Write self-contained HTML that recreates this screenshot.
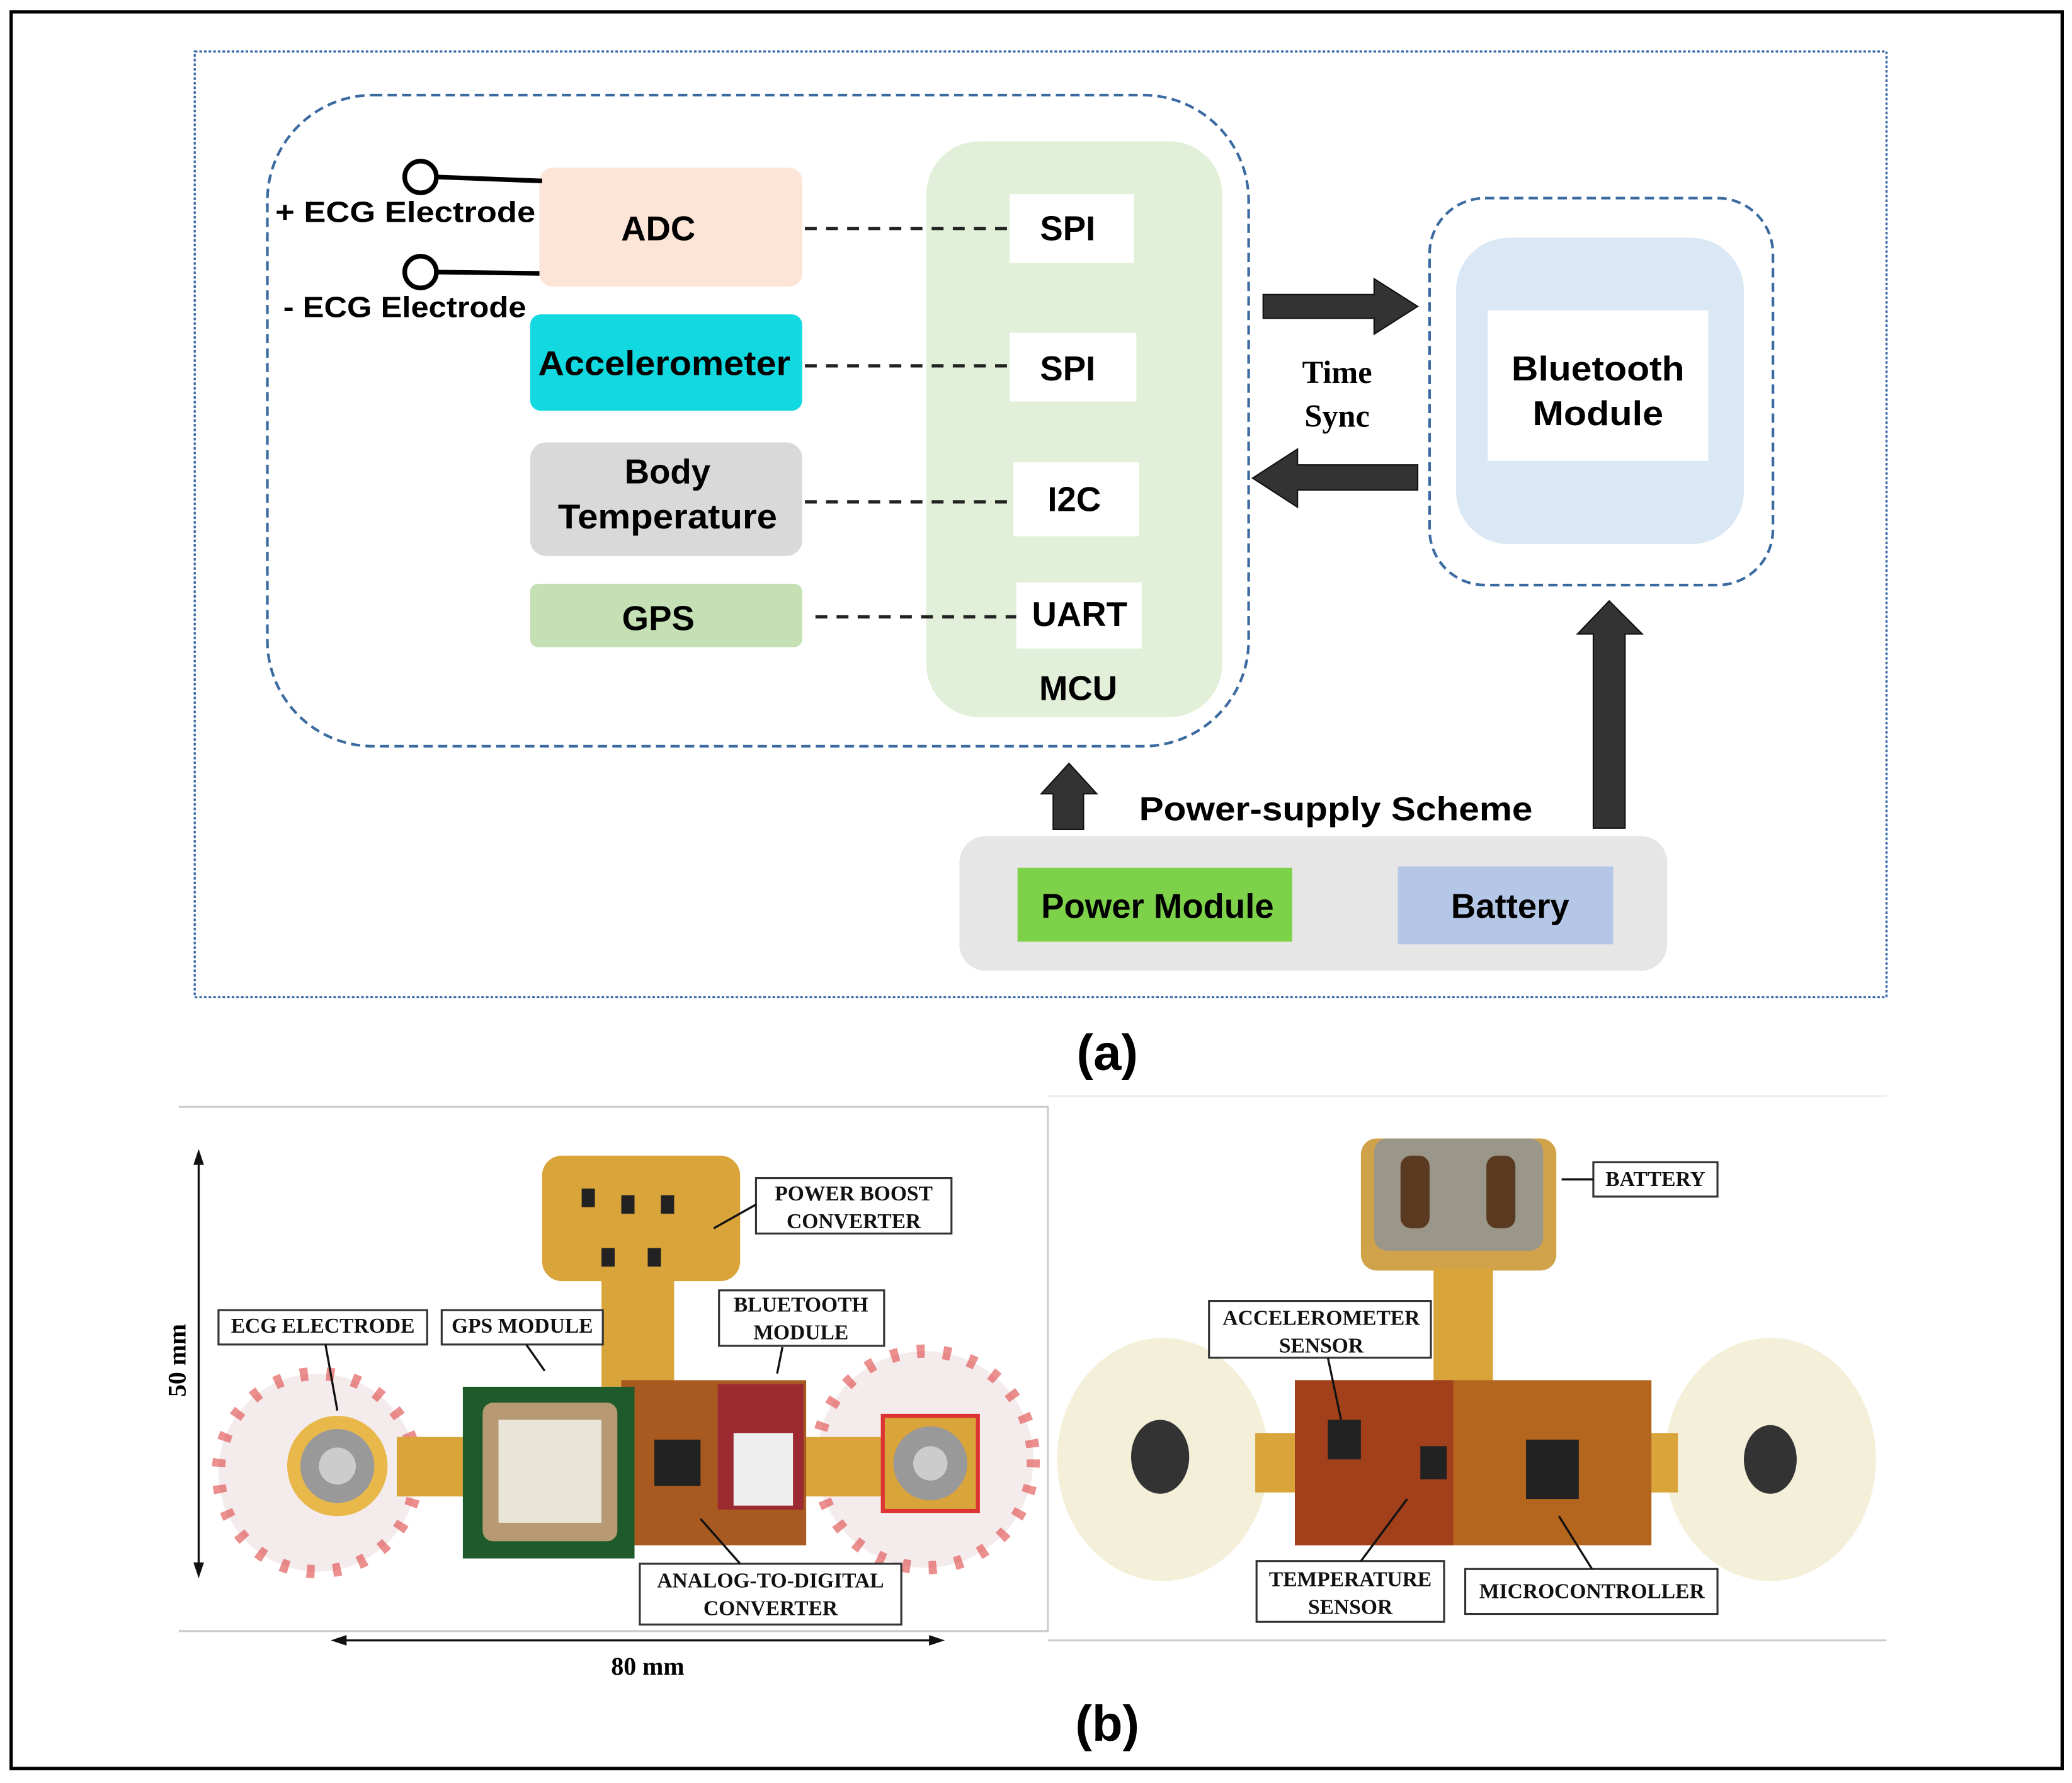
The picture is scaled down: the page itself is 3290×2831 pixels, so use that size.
<!DOCTYPE html>
<html><head><meta charset="utf-8"><style>
html,body{margin:0;padding:0;background:#fff}
svg{display:block}
.s{font-family:"Liberation Sans",Arial,sans-serif;font-weight:bold;fill:#000}
.r{font-family:"Liberation Serif",serif;font-weight:bold;fill:#000}
.l{font-family:"Liberation Serif",serif;font-weight:bold;font-size:16px;fill:#111}
</style></head><body>
<svg width="3290" height="2831" viewBox="0 0 1568 1350" xmlns="http://www.w3.org/2000/svg">
<rect x="0" y="0" width="1568" height="1350" fill="#fff"/>
<rect x="8" y="9" width="1553" height="1330" fill="none" stroke="#000" stroke-width="2.5"/>
<!-- part a -->
<rect x="147" y="39" width="1281" height="716" fill="none" stroke="#3a68a8" stroke-width="1.6" stroke-dasharray="2,1.5"/>
<rect x="202" y="72" width="743" height="493" rx="80" fill="none" stroke="#3a6aa0" stroke-width="2" stroke-dasharray="7,4"/>
<rect x="408" y="127" width="199" height="90" rx="10" fill="#fce4d6"/>
<rect x="401" y="238" width="206" height="73" rx="8" fill="#12d9e0"/>
<rect x="401" y="335" width="206" height="86" rx="12" fill="#d9d9d9"/>
<rect x="401" y="442" width="206" height="48" rx="6" fill="#c5e0b4"/>
<rect x="701" y="107" width="224" height="436" rx="40" fill="#e2f0d9"/>
<rect x="764" y="147" width="94" height="52" fill="#fff"/>
<rect x="764" y="252" width="96" height="52" fill="#fff"/>
<rect x="767" y="350" width="95" height="56" fill="#fff"/>
<rect x="769" y="441" width="95" height="50" fill="#fff"/>
<g stroke="#222" stroke-width="2.5" stroke-dasharray="9,7">
<line x1="609" y1="173" x2="762" y2="173"/>
<line x1="609" y1="277" x2="762" y2="277"/>
<line x1="609" y1="380" x2="764" y2="380"/>
<line x1="617" y1="467" x2="769" y2="467"/>
</g>
<g stroke="#000" stroke-width="3.5" fill="#fff">
<line x1="330" y1="134" x2="410" y2="137"/>
<line x1="330" y1="206" x2="408" y2="207"/>
<circle cx="318" cy="134" r="12"/>
<circle cx="318" cy="206" r="12"/>
</g>
<text class="s" x="208" y="168" font-size="22" textLength="197" lengthAdjust="spacingAndGlyphs">+  ECG Electrode</text>
<text class="s" x="214" y="240" font-size="22" textLength="184" lengthAdjust="spacingAndGlyphs">- ECG Electrode</text>
<text class="s" x="498" y="182" font-size="26" text-anchor="middle">ADC</text>
<text class="s" x="407" y="284" font-size="26" textLength="191" lengthAdjust="spacingAndGlyphs">Accelerometer</text>
<text class="s" x="505" y="366" font-size="26" text-anchor="middle">Body</text>
<text class="s" x="422" y="400" font-size="26" textLength="166" lengthAdjust="spacingAndGlyphs">Temperature</text>
<text class="s" x="498" y="477" font-size="26" text-anchor="middle">GPS</text>
<text class="s" x="808" y="182" font-size="26" text-anchor="middle">SPI</text>
<text class="s" x="808" y="288" font-size="26" text-anchor="middle">SPI</text>
<text class="s" x="813" y="387" font-size="26" text-anchor="middle">I2C</text>
<text class="s" x="817" y="474" font-size="26" text-anchor="middle">UART</text>
<text class="s" x="816" y="530" font-size="26" text-anchor="middle">MCU</text>
<rect x="1082" y="150" width="260" height="293" rx="42" fill="none" stroke="#3a6aa0" stroke-width="2" stroke-dasharray="7,4"/>
<rect x="1102" y="180" width="218" height="232" rx="40" fill="#dae8f5"/>
<rect x="1126" y="235" width="167" height="114" fill="#fff"/>
<text class="s" x="1144" y="288" font-size="26" textLength="131" lengthAdjust="spacingAndGlyphs">Bluetooth</text>
<text class="s" x="1160" y="322" font-size="26" textLength="99" lengthAdjust="spacingAndGlyphs">Module</text>
<g fill="#333" stroke="#111" stroke-width="1">
<polygon points="956,223 1040,223 1040,211 1073,232 1040,253 1040,241 956,241"/>
<polygon points="1073,352 982,352 982,340 948,362 982,384 982,371 1073,371"/>
<polygon points="1206,627 1206,480 1194,480 1218,455 1243,480 1230,480 1230,627"/>
<polygon points="797,628 797,601 788,601 809,578 830,601 820,601 820,628"/>
</g>
<text class="r" x="1012" y="290" font-size="24" text-anchor="middle">Time</text>
<text class="r" x="1012" y="323" font-size="24" text-anchor="middle">Sync</text>
<text class="s" x="862" y="621" font-size="25" textLength="298" lengthAdjust="spacingAndGlyphs">Power-supply Scheme</text>
<rect x="726" y="633" width="536" height="102" rx="20" fill="#e7e6e6"/>
<rect x="770" y="657" width="208" height="56" fill="#7ed24a"/>
<rect x="1058" y="656" width="163" height="59" fill="#b4c7e7"/>
<text class="s" x="876" y="695" font-size="26" text-anchor="middle">Power Module</text>
<text class="s" x="1143" y="695" font-size="26" text-anchor="middle">Battery</text>
<text class="s" x="838" y="810" font-size="38" text-anchor="middle">(a)</text>
<!-- part b -->
<polyline points="135,838 793,838 793,1235 135,1235" fill="none" stroke="#ccc" stroke-width="1.5"/>
<polyline points="793,830 1428,830" stroke="#eee" stroke-width="1.5"/>
<line x1="793" y1="1242" x2="1428" y2="1242" stroke="#ccc" stroke-width="1.5"/>
<circle cx="240" cy="1115" r="75" fill="#f4ecec"/>
<circle cx="240" cy="1115" r="75" fill="none" stroke="#d44" stroke-width="10" stroke-dasharray="6,14" opacity="0.6"/>
<circle cx="700" cy="1105" r="82" fill="#f4ecec"/>
<circle cx="700" cy="1105" r="82" fill="none" stroke="#d44" stroke-width="10" stroke-dasharray="6,14" opacity="0.6"/>
<rect x="410" y="875" width="150" height="95" rx="15" fill="#d9a43a"/>
<rect x="455" y="960" width="55" height="90" fill="#d9a43a"/>
<rect x="300" y="1088" width="440" height="45" fill="#d9a43a"/>
<rect x="470" y="1045" width="140" height="125" fill="#a85a20"/>
<rect x="543" y="1048" width="65" height="95" fill="#9c2a30"/>
<rect x="555" y="1085" width="45" height="55" fill="#eee"/>
<rect x="495" y="1090" width="35" height="35" fill="#222"/>
<rect x="350" y="1050" width="130" height="130" fill="#1e5a2a"/>
<rect x="365" y="1062" width="102" height="105" rx="8" fill="#b79a74"/>
<rect x="377" y="1075" width="78" height="78" fill="#e8e4d8"/>
<circle cx="255" cy="1110" r="38" fill="#e8b84a"/>
<circle cx="255" cy="1110" r="28" fill="#999"/>
<circle cx="255" cy="1110" r="14" fill="#ccc"/>
<rect x="668" y="1072" width="72" height="72" fill="#d9a43a" stroke="#d33" stroke-width="3"/>
<circle cx="704" cy="1108" r="28" fill="#999"/>
<circle cx="704" cy="1108" r="13" fill="#ccc"/>
<g fill="#222"><rect x="440" y="900" width="10" height="14"/><rect x="470" y="905" width="10" height="14"/><rect x="500" y="905" width="10" height="14"/><rect x="455" y="945" width="10" height="14"/><rect x="490" y="945" width="10" height="14"/></g>
<rect x="1030" y="862" width="148" height="100" rx="12" fill="#d0a24a"/>
<rect x="1040" y="862" width="128" height="85" rx="10" fill="#9a978a"/>
<rect x="1060" y="875" width="22" height="55" rx="8" fill="#5a3a20"/>
<rect x="1125" y="875" width="22" height="55" rx="8" fill="#5a3a20"/>
<rect x="1085" y="960" width="45" height="88" fill="#d9a43a"/>
<ellipse cx="880" cy="1105" rx="80" ry="92" fill="#f3efd8"/>
<ellipse cx="1340" cy="1105" rx="80" ry="92" fill="#f3efd8"/>
<ellipse cx="878" cy="1103" rx="22" ry="28" fill="#333"/>
<ellipse cx="1340" cy="1105" rx="20" ry="26" fill="#333"/>
<rect x="950" y="1085" width="320" height="45" fill="#d9a43a"/>
<rect x="980" y="1045" width="270" height="125" fill="#b5661e"/>
<rect x="980" y="1045" width="120" height="125" fill="#a3401c"/>
<rect x="1005" y="1075" width="25" height="30" fill="#222"/>
<rect x="1075" y="1095" width="20" height="25" fill="#222"/>
<rect x="1155" y="1090" width="40" height="45" fill="#222"/>
<g fill="#fff" stroke="#333" stroke-width="1.5">
<rect x="572" y="892" width="148" height="42"/>
<rect x="544" y="977" width="125" height="42"/>
<rect x="165" y="992" width="158" height="26"/>
<rect x="334" y="992" width="122" height="26"/>
<rect x="484" y="1184" width="198" height="46"/>
<rect x="1206" y="880" width="94" height="26"/>
<rect x="915" y="985" width="168" height="43"/>
<rect x="951" y="1182" width="142" height="46"/>
<rect x="1109" y="1188" width="191" height="34"/>
</g>
<text class="l" x="646" y="909" text-anchor="middle">POWER BOOST</text>
<text class="l" x="646" y="930" text-anchor="middle">CONVERTER</text>
<text class="l" x="606" y="993" text-anchor="middle">BLUETOOTH</text>
<text class="l" x="606" y="1014" text-anchor="middle">MODULE</text>
<text class="l" x="244" y="1009" text-anchor="middle">ECG ELECTRODE</text>
<text class="l" x="395" y="1009" text-anchor="middle">GPS MODULE</text>
<text class="l" x="583" y="1202" text-anchor="middle">ANALOG-TO-DIGITAL</text>
<text class="l" x="583" y="1223" text-anchor="middle">CONVERTER</text>
<text class="l" x="1253" y="898" text-anchor="middle">BATTERY</text>
<text class="l" x="1000" y="1003" text-anchor="middle">ACCELEROMETER</text>
<text class="l" x="1000" y="1024" text-anchor="middle">SENSOR</text>
<text class="l" x="1022" y="1201" text-anchor="middle">TEMPERATURE</text>
<text class="l" x="1022" y="1222" text-anchor="middle">SENSOR</text>
<text class="l" x="1205" y="1210" text-anchor="middle">MICROCONTROLLER</text>
<g stroke="#111" stroke-width="1.6">
<line x1="572" y1="912" x2="540" y2="930"/>
<line x1="592" y1="1020" x2="588" y2="1040"/>
<line x1="246" y1="1018" x2="255" y2="1068"/>
<line x1="398" y1="1018" x2="412" y2="1038"/>
<line x1="560" y1="1184" x2="530" y2="1150"/>
<line x1="1206" y1="893" x2="1182" y2="893"/>
<line x1="1005" y1="1028" x2="1015" y2="1075"/>
<line x1="1030" y1="1182" x2="1065" y2="1135"/>
<line x1="1205" y1="1188" x2="1180" y2="1148"/>
<line x1="150" y1="875" x2="150" y2="1190"/>
<line x1="255" y1="1242" x2="710" y2="1242"/>
</g>
<g fill="#111">
<polygon points="150,870 146,882 154,882"/><polygon points="150,1195 146,1183 154,1183"/>
<polygon points="250,1242 262,1238 262,1246"/><polygon points="715,1242 703,1238 703,1246"/>
</g>
<text class="r" x="490" y="1268" font-size="19" text-anchor="middle">80 mm</text>
<text class="r" x="140" y="1030" font-size="19" text-anchor="middle" transform="rotate(-90 140 1030)">50 mm</text>
<text class="s" x="838" y="1318" font-size="38" text-anchor="middle">(b)</text>
</svg>
</body></html>
